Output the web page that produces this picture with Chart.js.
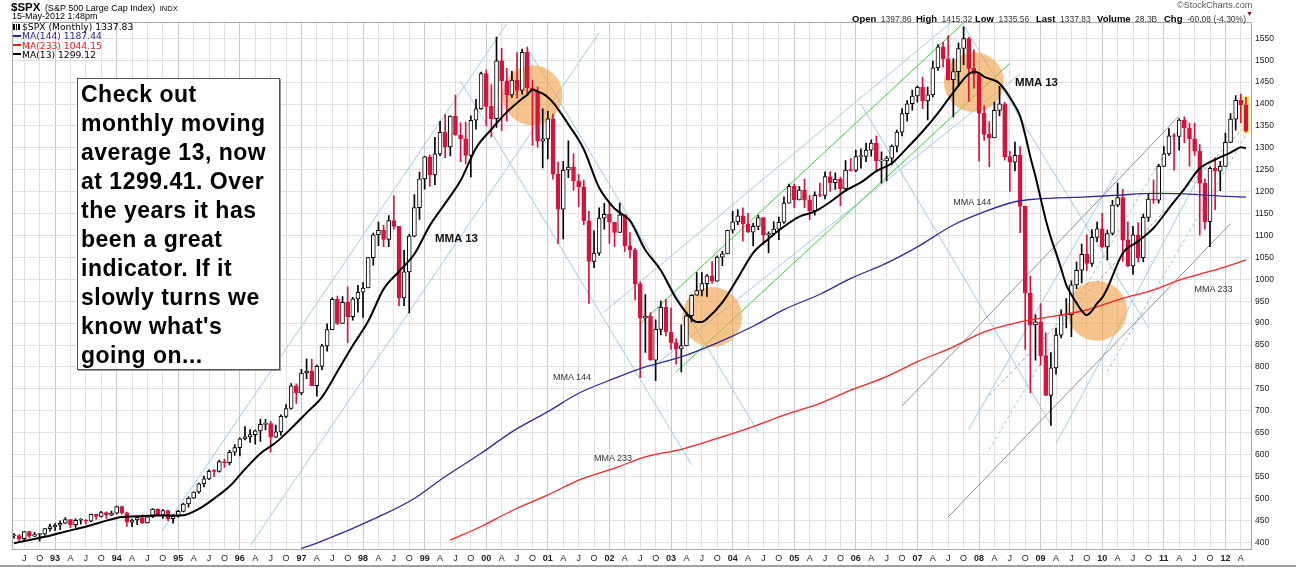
<!DOCTYPE html>
<html>
<head>
<meta charset="utf-8">
<script src="https://cdn.jsdelivr.net/npm/chart.js@4.4.1/dist/chart.umd.min.js"></script>
<style>
html,body{margin:0;padding:0;background:#fff;}
#wrap{position:relative;width:1296px;height:570px;overflow:hidden;font-family:"Liberation Sans",Arial,Helvetica,sans-serif;color:#000;}
#c{position:absolute;left:0;top:0;}
.t{position:absolute;white-space:nowrap;line-height:1;}
.lg{position:absolute;white-space:nowrap;line-height:9px;font-family:"DejaVu Sans",Verdana,sans-serif;font-size:9.2px;}
.dash{display:inline-block;width:8px;height:2px;vertical-align:middle;margin-right:1px;position:relative;top:-1px;}
.hd{position:absolute;white-space:nowrap;line-height:1;top:9px;}
.hd b{font-size:9.5px;}
.hd span{font-size:8.5px;color:#333;}
.mma{position:absolute;white-space:nowrap;line-height:1;transform:translateY(-50%);font-size:9px;color:#333;}
.mma.b{font-size:11.5px;font-weight:bold;color:#111;}
#note{position:absolute;left:77px;top:78px;width:198px;height:289px;border:1px solid #555;box-shadow:1px 1px 0 #999;background:#fff;
font-family:"Liberation Sans",Arial,sans-serif;font-weight:bold;font-size:23px;letter-spacing:0.5px;line-height:29px;padding:1px 0 0 3px;white-space:nowrap;color:#000;z-index:5;}
</style>
</head>
<body>
<div id="wrap">
<canvas id="c" width="1296" height="570"></canvas>

<div class="t" style="left:11px;top:-2px;"><span style="font-weight:bold;font-size:11.5px">$SPX</span> <span style="font-size:9px">(S&amp;P 500 Large Cap Index)</span> <span style="font-size:7.5px">INDX</span></div>
<div class="t" style="left:12px;top:12px;font-size:9px;">15-May-2012 1:48pm</div>

<div class="lg" style="left:13px;top:22px;"><span style="display:inline-block;width:7px;height:6px;margin-right:2px;vertical-align:middle;position:relative;top:-1px;background:linear-gradient(90deg,#000 0 2px,#fff 2px 3px,#000 3px 4px,#fff 4px 5px,#000 5px 7px);"></span>$SPX (Monthly) 1337.83</div>
<div class="lg" style="left:13px;top:31px;color:#26269a;"><span class="dash" style="background:#26269a"></span>MA(144) 1187.44</div>
<div class="lg" style="left:13px;top:40.5px;color:#f01818;"><span class="dash" style="background:#f01818"></span>MA(233) 1044.15</div>
<div class="lg" style="left:13px;top:49.5px;color:#000;"><span class="dash" style="background:#000"></span>MA(13) 1299.12</div>

<div class="t" style="left:1177px;top:1px;font-size:9px;color:#555;">&copy;StockCharts.com</div>
<div class="hd" style="left:852px;"><b>Open</b> <span>1397.86</span></div>
<div class="hd" style="left:916px;"><b>High</b> <span>1415.32</span></div>
<div class="hd" style="left:975px;"><b>Low</b> <span>1335.56</span></div>
<div class="hd" style="left:1036px;"><b>Last</b> <span>1337.83</span></div>
<div class="hd" style="left:1097px;"><b>Volume</b> <span>28.3B</span></div>
<div class="hd" style="left:1164px;"><b>Chg</b> <span>-60.08 (-4.30%)</span></div>
<div class="hd" style="left:1246px;top:10px;font-size:7px;color:#8b1010;">&#9660;</div>

<div id="note">Check out<br>monthly moving<br>average 13, now<br>at 1299.41. Over<br>the years it has<br>been a great<br>indicator. If it<br>slowly turns we<br>know what's<br>going on...</div>

<div style="position:absolute;left:0;top:565px;width:1296px;height:2px;background:#a0a0a0;"></div>
</div>

<script>
// ---------------- DATA ----------------
const START_YEAR = 1992, START_MONTH = 5, N_MONTHS = 241;   // May 1992 .. May 2012 (monthly bars)
const months = [];
for (let i = 0; i < N_MONTHS; i++) {
  const n = START_MONTH - 1 + i;
  months.push(String(START_YEAR + Math.floor(n / 12)) + '-' + String(n % 12 + 1).padStart(2, '0'));
}

const opens = [
  414.95,415.35,408.14,424.21,414.03,417.80,418.68,431.35,
  435.71,438.78,443.38,451.67,440.19,450.19,450.53,448.13,463.56,458.93,467.83,461.79,
  466.45,481.61,467.14,445.77,450.91,456.50,444.27,458.26,475.49,462.69,472.35,453.69,
  459.27,470.42,487.39,500.71,514.71,533.40,544.75,562.06,561.88,584.41,581.50,605.37,
  615.93,636.02,640.43,645.50,654.17,669.12,670.63,639.95,651.99,687.31,705.27,757.02,
  740.74,786.16,790.82,757.12,801.34,848.28,885.14,954.29,899.47,947.28,914.62,955.40,
  970.43,980.28,1049.34,1101.75,1111.75,1090.82,1133.84,1120.67,957.28,1017.01,1098.67,1163.63,
  1229.23,1279.64,1238.33,1286.37,1335.18,1301.84,1372.71,1328.72,1320.41,1282.71,1362.93,1388.91,
  1469.25,1394.46,1366.42,1498.58,1452.43,1420.60,1454.60,1430.83,1517.68,1436.51,1429.40,1314.95,
  1320.28,1366.01,1239.94,1160.33,1249.46,1255.82,1224.38,1211.23,1133.58,1040.94,1059.78,1139.45,
  1148.08,1130.20,1106.73,1147.39,1076.92,1067.14,989.82,911.62,916.07,815.28,885.76,936.31,
  879.82,855.70,841.15,848.18,916.92,963.59,974.50,990.31,1008.01,995.97,1050.71,1058.20,
  1111.92,1131.13,1144.94,1126.21,1107.30,1120.68,1140.84,1101.72,1104.24,1114.58,1130.20,1173.82,
  1211.92,1181.27,1203.60,1180.59,1156.85,1191.50,1191.33,1234.18,1220.33,1228.81,1207.01,1249.48,
  1248.29,1280.08,1280.66,1294.83,1310.61,1270.09,1270.20,1276.66,1303.82,1335.85,1377.94,1400.63,
  1418.30,1438.24,1406.82,1420.86,1482.37,1530.62,1503.35,1455.27,1473.99,1526.75,1549.38,1481.14,
  1468.36,1378.55,1330.63,1322.70,1385.59,1400.38,1280.00,1267.38,1282.83,1166.36,968.75,896.24,
  903.25,825.88,735.09,797.87,872.81,919.14,919.32,987.48,1020.62,1057.08,1036.19,1095.63,
  1115.10,1073.87,1104.49,1169.43,1186.69,1089.41,1030.71,1101.60,1049.33,1141.20,1183.26,1180.55,
  1257.64,1286.12,1327.22,1325.83,1363.61,1345.20,1320.64,1292.28,1218.89,1131.42,1253.30,1246.96,
  1257.60,1312.41,1365.68,1408.47,1397.86
];
const highs = [
  420.11,417.30,425.09,425.83,422.44,419.88,431.52,441.28,
  442.66,448.72,456.61,451.67,453.39,453.85,451.84,464.58,463.56,470.38,469.75,470.94,
  482.85,482.85,468.95,452.79,458.50,462.37,459.60,477.14,476.07,474.72,473.37,462.73,
  472.75,489.19,503.90,515.33,535.28,551.07,565.36,565.64,587.35,589.69,610.09,622.88,
  638.46,664.23,656.97,656.44,681.10,680.32,675.88,667.29,690.88,714.10,762.12,761.75,
  794.67,818.34,817.69,804.13,851.87,898.70,957.73,961.63,960.46,983.12,959.13,986.25,
  992.65,1050.02,1105.65,1130.52,1123.96,1145.15,1190.58,1121.18,1066.11,1102.65,1193.19,1244.93,
  1280.37,1283.83,1323.82,1360.22,1375.98,1372.93,1420.33,1357.13,1358.65,1373.17,1410.65,1473.13,
  1478.00,1444.55,1552.87,1527.19,1481.51,1474.63,1517.32,1525.21,1530.09,1454.82,1438.46,1389.06,
  1383.37,1376.86,1267.42,1269.30,1315.93,1286.62,1239.78,1226.27,1155.40,1110.61,1163.38,1173.62,
  1176.97,1130.20,1173.94,1147.84,1106.59,1070.74,994.46,965.00,924.02,907.44,951.13,954.28,
  935.05,864.64,895.90,924.24,965.38,1015.33,1015.41,1011.01,1040.29,1053.79,1063.65,1112.56,
  1155.38,1158.98,1163.23,1150.57,1127.74,1146.34,1140.84,1108.60,1131.54,1142.05,1188.46,1217.33,
  1217.80,1212.44,1229.11,1191.88,1199.56,1219.59,1245.15,1245.86,1243.13,1233.34,1270.64,1275.80,
  1294.90,1297.57,1310.88,1318.16,1326.70,1290.68,1280.42,1306.74,1340.28,1389.45,1407.89,1431.81,
  1441.61,1461.57,1438.89,1498.02,1535.56,1540.56,1555.90,1503.89,1538.74,1576.09,1552.76,1523.57,
  1471.77,1396.02,1359.68,1404.57,1440.24,1404.05,1292.17,1313.15,1303.04,1167.03,1007.51,918.85,
  943.85,877.86,832.98,888.70,930.17,956.23,996.68,1039.47,1080.15,1101.36,1113.69,1130.38,
  1150.45,1112.42,1180.16,1219.80,1205.13,1131.23,1120.95,1129.24,1148.90,1196.14,1227.08,1262.60,
  1302.67,1344.07,1332.28,1366.73,1370.58,1356.48,1356.48,1307.38,1229.29,1256.55,1277.55,1269.37,
  1333.47,1378.04,1419.15,1422.38,1415.32
];
const lows = [
  409.46,401.73,404.29,410.20,413.00,402.66,416.43,425.48,
  426.88,429.05,442.37,433.54,433.83,441.12,441.43,446.83,452.05,457.12,454.57,460.86,
  464.45,464.13,436.16,435.86,440.44,442.41,443.41,456.41,460.56,454.69,449.05,443.85,
  457.20,469.29,479.98,500.20,511.51,526.17,542.59,549.92,559.87,570.90,576.68,598.31,
  597.29,633.71,627.63,624.14,630.07,656.23,605.88,639.08,643.97,684.45,703.77,716.69,
  737.01,773.43,756.13,733.54,793.21,836.32,885.14,896.42,899.47,855.27,906.52,924.92,
  912.83,980.28,1032.10,1076.70,1074.39,1074.67,1114.30,939.98,939.71,923.32,1096.77,1136.89,
  1205.46,1211.89,1216.03,1282.17,1277.31,1281.41,1328.72,1268.16,1263.53,1233.70,1342.85,1387.38,
  1350.14,1325.07,1346.62,1339.40,1361.09,1415.22,1413.89,1422.41,1419.44,1305.79,1301.34,1254.07,
  1274.62,1228.42,1081.19,1091.99,1232.00,1203.03,1165.54,1124.87,944.75,1026.76,1054.31,1114.53,
  1081.66,1074.36,1106.73,1063.46,1048.96,952.92,775.68,833.44,815.28,768.63,872.99,871.00,
  840.34,806.29,788.90,847.85,902.83,963.59,962.10,960.84,990.36,995.97,1031.20,1058.20,
  1105.08,1124.44,1087.16,1107.23,1076.32,1113.32,1078.78,1060.72,1101.29,1090.19,1127.60,1173.76,
  1163.75,1180.95,1163.69,1136.15,1146.18,1188.30,1183.55,1201.07,1205.35,1168.20,1201.07,1246.59,
  1245.74,1253.61,1268.42,1280.74,1245.34,1219.29,1224.54,1261.30,1290.93,1327.10,1360.98,1385.93,
  1403.97,1389.42,1363.98,1416.37,1476.70,1484.18,1454.25,1370.60,1439.29,1489.56,1406.10,1435.65,
  1270.05,1316.75,1256.98,1324.35,1373.07,1272.00,1200.44,1247.45,1106.39,839.80,741.02,815.69,
  804.22,734.52,666.79,783.32,866.10,888.86,869.32,978.51,991.97,1020.18,1029.38,1085.89,
  1071.59,1044.50,1101.36,1166.00,1040.78,1028.33,1010.91,1039.70,1039.70,1131.87,1173.00,1173.80,
  1257.62,1282.86,1249.05,1294.70,1311.80,1258.07,1282.86,1101.54,1114.22,1074.77,1158.66,1202.37,
  1257.60,1312.41,1340.03,1357.38,1335.56
];
const closes = [
  415.35,408.14,424.21,414.03,417.80,418.68,431.35,435.71,
  438.78,443.38,451.67,440.19,450.19,450.53,448.13,463.56,458.93,467.83,461.79,466.45,
  481.61,467.14,445.77,450.91,456.50,444.27,458.26,475.49,462.69,472.35,453.69,459.27,
  470.42,487.39,500.71,514.71,533.40,544.75,562.06,561.88,584.41,581.50,605.37,615.93,
  636.02,640.43,645.50,654.17,669.12,670.63,639.95,651.99,687.31,705.27,757.02,740.74,
  786.16,790.82,757.12,801.34,848.28,885.14,954.29,899.47,947.28,914.62,955.40,970.43,
  980.28,1049.34,1101.75,1111.75,1090.82,1133.84,1120.67,957.28,1017.01,1098.67,1163.63,1229.23,
  1279.64,1238.33,1286.37,1335.18,1301.84,1372.71,1328.72,1320.41,1282.71,1362.93,1388.91,1469.25,
  1394.46,1366.42,1498.58,1452.43,1420.60,1454.60,1430.83,1517.68,1436.51,1429.40,1314.95,1320.28,
  1366.01,1239.94,1160.33,1249.46,1255.82,1224.38,1211.23,1133.58,1040.94,1059.78,1139.45,1148.08,
  1130.20,1106.73,1147.39,1076.92,1067.14,989.82,911.62,916.07,815.28,885.76,936.31,879.82,
  855.70,841.15,848.18,916.92,963.59,974.50,990.31,1008.01,995.97,1050.71,1058.20,1111.92,
  1131.13,1144.94,1126.21,1107.30,1120.68,1140.84,1101.72,1104.24,1114.58,1130.20,1173.82,1211.92,
  1181.27,1203.60,1180.59,1156.85,1191.50,1191.33,1234.18,1220.33,1228.81,1207.01,1249.48,1248.29,
  1280.08,1280.66,1294.83,1310.61,1270.09,1270.20,1276.66,1303.82,1335.85,1377.94,1400.63,1418.30,
  1438.24,1406.82,1420.86,1482.37,1530.62,1503.35,1455.27,1473.99,1526.75,1549.38,1481.14,1468.36,
  1378.55,1330.63,1322.70,1385.59,1400.38,1280.00,1267.38,1282.83,1166.36,968.75,896.24,903.25,
  825.88,735.09,797.87,872.81,919.14,919.32,987.48,1020.62,1057.08,1036.19,1095.63,1115.10,
  1073.87,1104.49,1169.43,1186.69,1089.41,1030.71,1101.60,1049.33,1141.20,1183.26,1180.55,1257.64,
  1286.12,1327.22,1325.83,1363.61,1345.20,1320.64,1292.28,1218.89,1131.42,1253.30,1246.96,1257.60,
  1312.41,1365.68,1408.47,1397.91,1337.83
];

// 13-month moving average
const ma13Months = [
  "1992-05","1992-08","1992-11",
  "1993-02","1993-05","1993-08","1993-11",
  "1994-02","1994-05","1994-08","1994-11",
  "1995-02","1995-05","1995-08","1995-11",
  "1996-02","1996-05","1996-08","1996-11",
  "1997-02","1997-05","1997-08","1997-11",
  "1998-02","1998-05","1998-08","1998-11",
  "1999-02","1999-05","1999-08","1999-11",
  "2000-02","2000-05","2000-08","2000-09","2000-10","2000-11","2000-12",
  "2001-01","2001-02","2001-05","2001-08","2001-11",
  "2002-02","2002-05","2002-08","2002-11",
  "2003-02","2003-05","2003-06","2003-07","2003-08","2003-11",
  "2004-02","2004-05","2004-08","2004-11",
  "2005-02","2005-05","2005-08","2005-11",
  "2006-02","2006-05","2006-08","2006-11",
  "2007-02","2007-05","2007-08","2007-11","2007-12",
  "2008-01","2008-02","2008-05","2008-08","2008-09","2008-10","2008-11","2008-12",
  "2009-01","2009-02","2009-03","2009-04","2009-05","2009-06","2009-07","2009-08","2009-09","2009-10","2009-11","2009-12",
  "2010-01","2010-02","2010-05","2010-08","2010-11",
  "2011-02","2011-05","2011-08","2011-11",
  "2012-02","2012-03","2012-04","2012-05"
];
const ma13Values = [
  397.9,405.4,412.5,
  421.4,430.0,438.8,449.4,
  457.8,459.2,461.4,461.3,
  461.9,476.1,499.9,527.7,
  566.8,602.7,627.5,659.9,
  695.3,731.2,789.6,849.1,
  904.1,977.6,1017.9,1057.8,
  1122.5,1173.3,1225.3,1299.3,
  1342.2,1381.5,1412.3,1421.2,1432.5,1428.8,1423.5,
  1415.6,1403.7,1353.6,1296.9,1208.9,
  1161.5,1134.0,1066.7,1020.8,
  956.1,909.8,902.7,902.7,910.1,947.6,
  1002.7,1060.3,1092.5,1120.4,
  1143.2,1154.8,1176.5,1202.4,
  1221.0,1246.7,1264.7,1299.9,
  1337.3,1379.4,1426.8,1468.3,1473.5,
  1470.4,1462.2,1446.7,1396.0,1372.3,1329.4,1279.1,1234.7,
  1185.3,1135.8,1094.8,1060.2,1024.3,987.3,964.8,945.8,928.5,918.4,928.2,945.0,
  958.2,979.6,1059.6,1086.9,1117.0,
  1162.1,1206.3,1253.2,1273.1,
  1289.3,1295.6,1301.1,1299.12
];
// 144-month moving average
const ma144Months = ["1997-01","1997-04","1998-04","1998-11","1999-05","1999-12","2000-06","2001-01","2001-07","2002-02","2002-08","2003-03","2003-10","2004-05","2004-11","2005-06","2005-12","2006-07","2007-01","2007-08","2008-02","2008-08","2008-12","2009-10","2010-04","2010-11","2011-05","2011-12","2012-05"];
const ma144Values = [386,398,458,500,550,603,652,698,740,774,800,823,855,893,931,966,1002,1037,1074,1124,1154,1177,1183,1188,1192,1196,1195,1190,1187.44];
// 233-month moving average
const ma233Months = ["1999-06","1999-12","2000-06","2001-01","2001-07","2002-02","2002-08","2003-03","2003-10","2004-05","2004-11","2005-06","2005-12","2006-07","2007-01","2007-08","2008-02","2008-09","2009-03","2009-10","2010-04","2010-11","2011-05","2011-12","2012-05"];
const ma233Values = [405,436,472,508,542,569,595,612,637,664,690,717,747,778,812,846,880,903,915,930,953,976,1002,1025,1044.15];

// y-axis tick labels
const yTicks = [400,450,500,550,600,650,700,750,800,850,900,950,1000,1050,1100,1150,1200,1250,1300,1350,1400,1450,1500,1550];
const quarterLetters = {4: 'A', 7: 'J', 10: 'O'};

// hand-drawn trend lines: [startMonth, startPrice, endMonth, endPrice]
const trendBlue = [
  ["1994-10",428,"2000-05",1583],
  ["1996-03",392,"2001-11",1563],
  ["1999-08",1452,"2003-05",577],
  ["2000-09",1528,"2004-06",651],
  ["2001-12",926,"2007-10",1610],
  ["2002-09",796,"2008-09",1469],
  ["2006-02",1399,"2009-03",669],
  ["2007-10",1579,"2010-10",890],
  ["2007-11",658,"2010-04",1248],
  ["2009-04",625,"2011-09",1260]
];
const trendBlueDashed = [
  ["2008-03",612,"2011-04",1344],
  ["2010-02",790,"2012-05",1329]
];
const trendGreen = [
  ["2002-07",899,"2007-12",1607],
  ["2003-02",789,"2008-07",1493]
];
const trendGrey = [
  ["2006-10",711,"2011-04",1373],
  ["2007-07",458,"2012-02",1127]
];
const trendGreyDashed = [
  ["2008-03",735,"2012-05",1351]
];
// highlight circles [month, price]
const circleMonths = ["2000-10","2003-09","2007-12","2009-12"];
const circlePrices = [1420,914,1450,928];
// chart annotations
const mmaLabelText  = ["MMA 13","MMA 13","MMA 144","MMA 144","MMA 233","MMA 233"];
const mmaLabelMonth = ["1999-03","2008-08","2001-02","2007-08","2001-10","2011-07"];
const mmaLabelPrice = [1092,1448,777,1176,592,978];

// ---------------- CHART ----------------
const FONT = '"Liberation Sans", Arial, Helvetica, sans-serif';
Chart.defaults.font.family = FONT;
const RED = '#d8123c';
const idx = m => months.indexOf(m);
const monthOf = i => parseInt(months[Math.round(i)].slice(5), 10);
const isUp = closes.map((c, i) => c >= opens[i]);
const quarterIdx = months.map((m, i) => i).filter(i => [1, 4, 7, 10].includes(monthOf(i)));

const annot = {
  id: 'annot',
  beforeDatasetsDraw(chart) {
    const {ctx, chartArea: a, scales} = chart;
    const X = m => scales.x.getPixelForValue(typeof m === 'string' ? idx(m) : m);
    const Y = v => scales.y.getPixelForValue(v);
    ctx.save();
    ctx.beginPath();
    ctx.rect(a.left, a.top, a.right - a.left, a.bottom - a.top);
    ctx.clip();
    const seg = (list, color, dash) => {
      ctx.strokeStyle = color; ctx.lineWidth = 1; ctx.setLineDash(dash);
      for (const s of list) {
        ctx.beginPath(); ctx.moveTo(X(s[0]), Y(s[1])); ctx.lineTo(X(s[2]), Y(s[3])); ctx.stroke();
      }
    };
    seg(trendBlue, '#9ccaf2', []);
    seg(trendBlueDashed, '#8cc0ee', [3, 3]);
    seg(trendGreen, '#36d436', []);
    seg(trendGrey, '#8f8f8f', []);
    seg(trendGreyDashed, '#9a9a9a', [3, 3]);
    ctx.setLineDash([]);
    ctx.fillStyle = 'rgba(240,160,70,0.62)';
    circleMonths.forEach((m, k) => {
      ctx.beginPath(); ctx.arc(X(m), Y(circlePrices[k]), 30, 0, Math.PI * 2); ctx.fill();
    });
    const li = closes.length - 1;
    const lx = X(li);
    ctx.fillStyle = 'rgba(255,238,70,0.85)';
    ctx.fillRect(lx - 3.5, Y(highs[li]) - 1, 7, Y(lows[li]) - Y(highs[li]) + 2);
    ctx.restore();
  },
  afterDatasetsDraw(chart) {
    const {ctx, chartArea: a} = chart;
    ctx.save();
    ctx.strokeStyle = '#a6a6a6'; ctx.lineWidth = 1;
    ctx.strokeRect(Math.round(a.left) + 0.5, Math.round(a.top) + 0.5, Math.round(a.right - a.left) - 1, Math.round(a.bottom - a.top) - 1);
    ctx.restore();
  }
};

const chart = new Chart(document.getElementById('c'), {
  type: 'bar',
  data: {
    datasets: [
      { type: 'line', label: 'MA(13)', data: ma13Months.map((m, k) => ({x: idx(m), y: ma13Values[k]})),
        borderColor: '#000', borderWidth: 2, pointRadius: 0, cubicInterpolationMode: 'monotone', order: 0 },
      { type: 'line', label: 'MA(144)', data: ma144Months.map((m, k) => ({x: idx(m), y: ma144Values[k]})),
        borderColor: '#2b2b9c', borderWidth: 1.3, pointRadius: 0, cubicInterpolationMode: 'monotone', order: 0 },
      { type: 'line', label: 'MA(233)', data: ma233Months.map((m, k) => ({x: idx(m), y: ma233Values[k]})),
        borderColor: '#ff2424', borderWidth: 1.3, pointRadius: 0, cubicInterpolationMode: 'monotone', order: 0 },
      { label: 'body', data: opens.map((o, i) => ({x: i, y: [o, closes[i]]})),
        backgroundColor: isUp.map(u => u ? '#ffffff' : RED), borderColor: isUp.map(u => u ? '#000' : RED),
        borderWidth: 1, borderSkipped: false, barThickness: 4, grouped: false, minBarLength: 1, order: 1 },
      { label: 'wick', data: lows.map((l, i) => ({x: i, y: [l, highs[i]]})),
        backgroundColor: isUp.map(u => u ? '#000' : RED), borderWidth: 0, barThickness: 1, grouped: false, order: 2 }
    ]
  },
  options: {
    responsive: false, animation: false, devicePixelRatio: 1,
    layout: {padding: {left: 11.7, top: 21.7, right: 0, bottom: 0}},
    plugins: {legend: {display: false}, tooltip: {enabled: false}},
    scales: {
      x: {
        type: 'linear', min: -0.448, max: 241.18, offset: false,
        border: {display: false},
        grid: {offset: false, drawTicks: false, lineWidth: 1,
               color: c => (c.tick && monthOf(c.tick.value) === 1) ? '#c6c6c6' : '#e0e0e0'},
        afterBuildTicks: s => { s.ticks = quarterIdx.map(v => ({value: v})); },
        afterFit: s => { s.height = 20; },
        ticks: {autoSkip: false, maxRotation: 0, minRotation: 0, padding: 3, color: '#222',
          font: c => ({size: 9, family: FONT, weight: (c.tick && monthOf(c.tick.value) === 1) ? 'bold' : 'normal'}),
          callback: v => { const m = monthOf(v); return m === 1 ? months[v].slice(2, 4) : quarterLetters[m]; }}
      },
      y: {
        type: 'linear', position: 'right', min: 382.4, max: 1587.8,
        border: {display: false},
        grid: {drawTicks: false, color: '#e0e0e0', lineWidth: 1},
        afterBuildTicks: s => { s.ticks = yTicks.map(v => ({value: v})); },
        afterFit: s => { s.width = 44; },
        ticks: {padding: 3, color: '#222', font: {size: 8.5, family: FONT}, callback: v => String(v)}
      }
    }
  },
  plugins: [annot]
});

// place annotation labels through the chart scales
const wrap = document.getElementById('wrap');
mmaLabelText.forEach((t, k) => {
  const d = document.createElement('div');
  d.className = 'mma' + (t === 'MMA 13' ? ' b' : '');
  d.textContent = t;
  d.style.left = chart.scales.x.getPixelForValue(idx(mmaLabelMonth[k])) + 'px';
  d.style.top = chart.scales.y.getPixelForValue(mmaLabelPrice[k]) + 'px';
  wrap.appendChild(d);
});
</script>
</body>
</html>
